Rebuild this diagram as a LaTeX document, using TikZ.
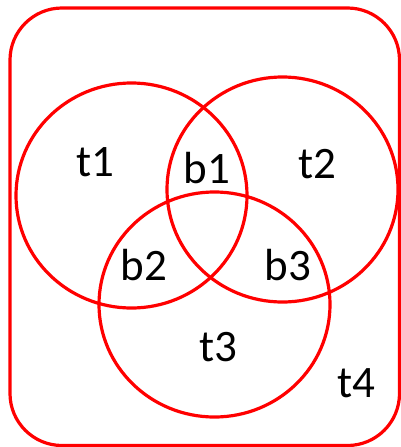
\documentclass[tikz,border=0pt]{standalone}
\usepackage{fontspec}
\setmainfont{Carlito}
\begin{document}
\begin{tikzpicture}[x=1pt,y=-1pt,
  setline/.style={draw=red,line width=3.2pt},
  lbl/.style={anchor=base,font=\fontsize{45}{45}\selectfont,text=black,inner sep=0pt}]
\useasboundingbox (0,0) rectangle (401,447);
\draw[setline,rounded corners=52pt] (10,8) rectangle (399.5,445.5);
\draw[setline] (131.5,195.5) ellipse [x radius=115.5, y radius=112.5];
\draw[setline] (282.5,189.5) ellipse [x radius=115.5, y radius=112.5];
\draw[setline] (214.5,304.5) ellipse [x radius=115.5, y radius=112.5];
\node[lbl] (t1) at (95,176) {t1};
\node[lbl] (b1) at (207,183) {b1};
\node[lbl] (t2) at (317,178) {t2};
\node[lbl] (b2) at (144,280) {b2};
\node[lbl] (b3) at (288,280) {b3};
\node[lbl] (t3) at (218,361) {t3};
\node[lbl] (t4) at (356,397) {t4};
\end{tikzpicture}
\end{document}
